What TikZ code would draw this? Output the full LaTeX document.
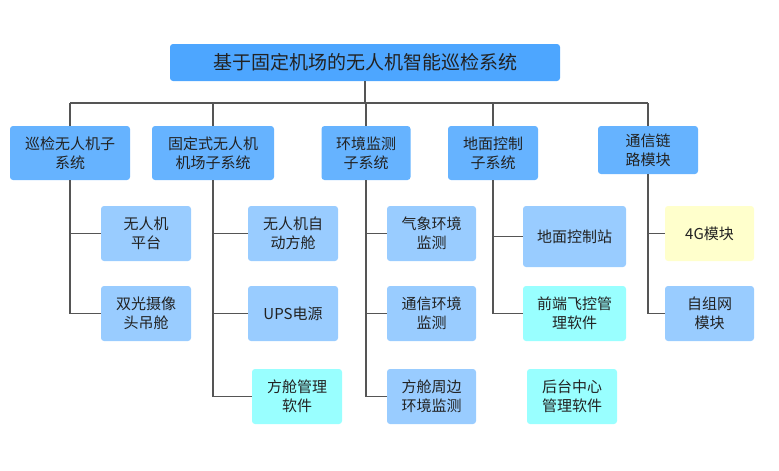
\documentclass[tikz,border=0pt]{standalone}
\usepackage{fontspec}
\newfontfamily\cjk{Noto Sans CJK SC}
\usetikzlibrary{positioning}
\definecolor{topblue}{RGB}{77,166,255}
\definecolor{subblue}{RGB}{102,179,255}
\definecolor{leafblue}{RGB}{153,204,255}
\definecolor{leafcyan}{RGB}{153,255,255}
\definecolor{leafyellow}{RGB}{255,255,204}
\definecolor{linegray}{RGB}{85,85,85}
\definecolor{textgray}{RGB}{34,34,34}
\tikzset{
    box/.style = {rounded corners=3pt, align=center, inner sep=0pt, text=textgray,
        font=\cjk\fontsize{15}{19}\selectfont},
    topbox/.style = {box, fill=topblue, minimum width=390pt, minimum height=37pt,
        font=\cjk\fontsize{19}{23}\selectfont},
    subbox/.style = {box, fill=subblue, minimum height=54pt},
    leaf/.style = {box, fill=leafblue, minimum width=90pt, minimum height=55pt},
    cyanleaf/.style = {leaf, fill=leafcyan},
    link/.style = {draw=linegray, line width=1.5pt}
}

\begin{document}
\begin{tikzpicture}[x=1pt, y=-1pt]
    \useasboundingbox (0,0) rectangle (779,471);
    \node[topbox] (main) at (365,62.5) {基于固定机场的无人机智能巡检系统};
    \node[subbox, minimum width=120pt] (xj) at (70,153) {巡检无人机子\\系统};
    \node[subbox, minimum width=122pt] (jc) at (213,153) {固定式无人机\\机场子系统};
    \node[subbox, minimum width=89pt] (hj) at (366,153) {环境监测\\子系统};
    \node[subbox, minimum width=90pt] (dm) at (493,153) {地面控制\\子系统};
    \node[subbox, minimum width=100pt, minimum height=48pt] (tx) at (648,150) {通信链\\路模块};
    \coordinate (bus) at (0,103);
    \node[leaf] (xj1) at (146,233.5) {无人机\\平台};
    \node[leaf] (xj2) at (146,313.5) {双光摄像\\头吊舱};
    \node[leaf] (jc1) at (293,233.5) {无人机自\\动方舱};
    \node[leaf] (jc2) at (293,313.5) {UPS电源};
    \node[cyanleaf] (jc3) at (297,396.5) {方舱管理\\软件};
    \node[leaf, minimum width=89pt] (hj1) at (431.5,233.5) {气象环境\\监测};
    \node[leaf, minimum width=89pt] (hj2) at (431.5,313.5) {通信环境\\监测};
    \node[leaf, minimum width=89pt] (hj3) at (431.5,396.5) {方舱周边\\环境监测};
    \node[leaf, minimum width=103pt, minimum height=61pt] (dm1) at (574.5,236.5) {地面控制站};
    \node[cyanleaf, minimum width=103pt] (dm2) at (574.5,313.5) {前端飞控管\\理软件};
    \node[cyanleaf] (dm3) at (572,396.5) {后台中心\\管理软件};
    \node[leaf, fill=leafyellow, minimum width=89pt] (tx1) at (709.5,233.5) {4G模块};
    \node[leaf, minimum width=89pt] (tx2) at (709.5,313.5) {自组网\\模块};
    \draw[link] (main.south) -- (main.south |- bus);
    \draw[link] (xj.north |- bus) -- (tx.north |- bus);
    \foreach \s in {xj, jc, hj, dm, tx}
        \draw[link] (\s.north) -- (\s.north |- bus);
    \draw[link] (xj.south) |- (xj2.west);
    \draw[link] (xj1.west) -- (xj1.west -| xj.south);
    \draw[link] (jc.south) |- (jc3.west);
    \draw[link] (jc1.west) -- (jc1.west -| jc.south);
    \draw[link] (jc2.west) -- (jc2.west -| jc.south);
    \draw[link] (hj.south) |- (hj3.west);
    \draw[link] (hj1.west) -- (hj1.west -| hj.south);
    \draw[link] (hj2.west) -- (hj2.west -| hj.south);
    \draw[link] (dm.south) |- (dm2.west);
    \draw[link] (dm1.west) -- (dm1.west -| dm.south);
    \draw[link] (tx.south) |- (tx2.west);
    \draw[link] (tx1.west) -- (tx1.west -| tx.south);
\end{tikzpicture}
\end{document}
